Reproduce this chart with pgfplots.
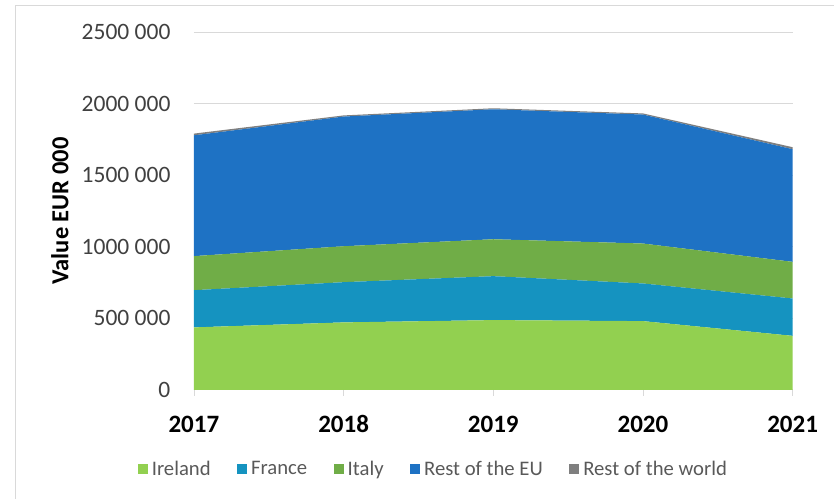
\documentclass[border=0pt]{standalone}
\usepackage{pgfplots}
\pgfplotsset{compat=1.18}
\usepackage{fontspec}
\setmainfont{Carlito}
\definecolor{cIre}{HTML}{92D050}
\definecolor{cFra}{HTML}{1593C0}
\definecolor{cIta}{HTML}{70AD47}
\definecolor{cEU}{HTML}{1E72C4}
\definecolor{cWor}{HTML}{7F7F7F}
\definecolor{gridc}{HTML}{D9D9D9}
\definecolor{tickc}{HTML}{404040}
\definecolor{legc}{HTML}{595959}
\begin{document}
\begin{tikzpicture}[font=\fontsize{20.7}{24}\selectfont]
\path (0,0) rectangle (834pt,499pt);
\draw[gridc, line width=0.8pt] (15pt,0) -- (15pt,494pt) -- (834pt,494pt);
\begin{axis}[
  at={(194pt,109pt)}, anchor=south west,
  scale only axis, width=599pt, height=358pt,
  xmin=2017, xmax=2021, ymin=0, ymax=2500000,
  scaled y ticks=false, scaled x ticks=false,
  stack plots=y, area style, axis on top=false,
  separate axis lines,
  x axis line style={draw=gridc, line width=0.8pt},
  y axis line style={draw=none},
  xtick pos=bottom,
  xtick={2017,2018,2019,2020,2021},
  xticklabels={2017,2018,2019,2020,2021},
  xticklabel style={font=\fontsize{25}{28}\selectfont\bfseries, text height=17pt, text depth=0pt, anchor=north, yshift=-16pt},
  xtick style={draw=gridc, line width=0.8pt},
  tick align=outside, major tick length=6pt,
  ytick={0,500000,1000000,1500000,2000000,2500000},
  yticklabels={0,500 000,1000 000,1500 000,2000 000,2500 000},
  yticklabel style={font=\fontsize{23.5}{26}\selectfont, text=tickc, xshift=-14pt},
  ytick style={draw=none},
  ymajorgrids, grid style={draw=gridc, line width=0.8pt},
  ylabel={Value EUR 000},
  ylabel style={font=\fontsize{24.5}{28}\selectfont\bfseries, at={(axis description cs:-0.224,0.5)}, anchor=center},
  legend columns=-1,
  legend style={at={(0.40,-0.2207)}, anchor=center, draw=none, fill=none, text=legc,
    /tikz/every even column/.append style={column sep=24.5pt},
    /tikz/every odd column/.append style={column sep=2pt}},
  legend image code/.code={\fill[#1] (0pt,-5pt) rectangle (10pt,5pt);},
]
\addplot[fill=cIre, draw=none] coordinates {(2017,436000) (2018,471000) (2019,487000) (2020,480000) (2021,377000)} \closedcycle;
\addplot[fill=cFra, draw=none] coordinates {(2017,260000) (2018,281000) (2019,307000) (2020,263000) (2021,261000)} \closedcycle;
\addplot[fill=cIta, draw=none] coordinates {(2017,238000) (2018,251000) (2019,258000) (2020,279000) (2021,256000)} \closedcycle;
\addplot[fill=cEU, draw=none] coordinates {(2017,844000) (2018,906000) (2019,908000) (2020,901000) (2021,787000)} \closedcycle;
\addplot[fill=cWor, draw=none] coordinates {(2017,12000) (2018,8000) (2019,7000) (2020,8000) (2021,14000)} \closedcycle;
\legend{Ireland,France,Italy,Rest of the EU,Rest of the world}
\end{axis}
\end{tikzpicture}
\end{document}
